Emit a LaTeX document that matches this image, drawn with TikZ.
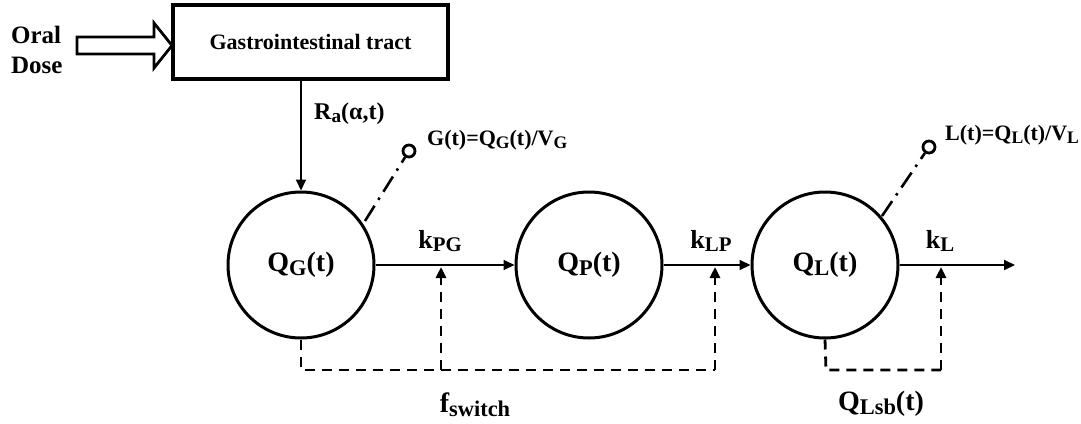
\documentclass[tikz,border=0pt]{standalone}
\usepackage{fontspec}
\usepackage{graphicx}
\setmainfont{Liberation Serif}
\usetikzlibrary{arrows.meta}
% large, lowered subscript in text
\newcommand{\lsub}[1]{\raisebox{-0.32ex}{\scalebox{0.8}{#1}}}

\begin{document}
\begin{tikzpicture}[x=1pt,y=-1pt,
  comp/.style={circle,draw,line width=3pt,minimum size=146pt,inner sep=0pt,
    font=\fontsize{28}{32}\selectfont\bfseries},
  tip/.style={-{Triangle[length=11pt,width=10pt]}},
  flow/.style={line width=2pt,tip},
  ctrl/.style={line width=2.8pt,dash pattern=on 10pt off 7pt},
  ctrlarrow/.style={ctrl,tip},
  probe/.style={line width=2.6pt,dash pattern=on 18pt off 7pt on 2.5pt off 7pt},
  sensor/.style={circle,draw,line width=2.8pt,minimum size=12pt,inner sep=0pt},
  rate/.style={inner sep=0pt,font=\fontsize{26}{30}\selectfont\bfseries},
  eqn/.style={inner sep=0pt,font=\fontsize{22}{26}\selectfont\bfseries},
]
\useasboundingbox (0,0) rectangle (1081,423);

% oral dose entering the gut
\node[inner sep=0pt,anchor=west,align=left,font=\fontsize{25}{30}\selectfont\bfseries]
  (dose) at (11,50) {Oral\\Dose};
\draw[line width=2.8pt,line join=miter] (77,37) -- (154,37) -- (154,23) -- (172,45.5)
  -- (154,68) -- (154,54) -- (77,54) -- cycle;

% gastrointestinal tract
\node[draw,line width=3.5pt,minimum width=275pt,minimum height=74pt,inner sep=0pt,
  font=\fontsize{22}{26}\selectfont\bfseries] (gi) at (310.5,42) {Gastrointestinal tract};

% compartments
\node[comp] (qg) at (301,265) {Q\lsub{G}(t)};
\node[comp] (qp) at (589,265) {Q\lsub{P}(t)};
\node[comp] (ql) at (825,265) {Q\lsub{L}(t)};

% absorption
\draw[flow] (gi.south -| qg.north) -- (qg.north);
\node[inner sep=0pt,anchor=base west,font=\fontsize{24}{28}\selectfont\bfseries]
  (ra) at (314,119) {R\lsub{a}(α,t)};

% transfers
\coordinate (out) at (1015,265);
\draw[flow] (qg.east) -- (qp.west);
\draw[flow] (qp.east) -- (ql.west);
\draw[flow] (ql.east) -- (out);
\node[rate,anchor=base] (kpg) at (440,248) {k\lsub{PG}};
\node[rate,anchor=base] (klp) at (711,248) {k\lsub{LP}};
\node[rate,anchor=base] (kl) at (940,248) {k\lsub{L}};

% control signals
\coordinate (c1) at (301,370);
\coordinate (c2) at (441,370);
\coordinate (c3) at (715,370);
\coordinate (t1) at (441,267);
\coordinate (t2) at (715,267);
\draw[ctrl] (qg.south) -- (c1) -- (c3);
\draw[ctrlarrow] (c2) -- (t1);
\draw[ctrlarrow] (c3) -- (t2);
\node[rate,anchor=base,font=\fontsize{28}{32}\selectfont\bfseries] (fsw) at (475,412) {f\lsub{switch}};

\coordinate (c4) at (826,370);
\coordinate (c5) at (941,370);
\coordinate (t3) at (941,267);
\draw[ctrl] (ql.south) -- (c4) -- (c5);
\draw[ctrlarrow] (c5) -- (t3);
\node[rate,anchor=base,font=\fontsize{28}{32}\selectfont\bfseries] (qlsb) at (881,410) {Q\lsub{Lsb}(t)};

% measured concentrations
\node[sensor] (sg) at (409,151) {};
\node[sensor] (sl) at (929,147) {};
\coordinate (pg) at (365,221);
\coordinate (pl) at (882,216);
\draw[probe] (pg) -- (sg);
\draw[probe] (pl) -- (sl);
\node[eqn,anchor=base west] (gt) at (427,145) {G(t)=Q\lsub{G}(t)/V\lsub{G}};
\node[eqn,anchor=base west] (lt) at (945,140) {L(t)=Q\lsub{L}(t)/V\lsub{L}};
\end{tikzpicture}
\end{document}
